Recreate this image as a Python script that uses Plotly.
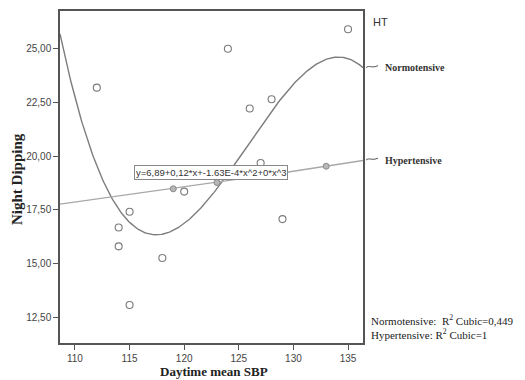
import numpy as np
import plotly.graph_objects as go

# Daytime mean SBP vs night dipping, split by hypertension status
normo_sbp = [112, 114, 114, 115, 115, 118, 120, 124, 126, 127, 128, 129, 135]
normo_dip = [23.19, 16.68, 15.80, 17.41, 13.07, 15.26, 18.35, 25.00, 22.22, 19.68, 22.65, 17.07, 25.91]
hyper_sbp = [119, 123, 133]
hyper_dip = [18.48, 18.77, 19.53]

x_range = [108.63, 136.37]
y_range = [11.3, 26.76]
y_ticks = [12.5, 15.0, 17.5, 20.0, 22.5, 25.0]
x_ticks = [110, 115, 120, 125, 130, 135]

equation_text = "y=6,89+0,12*x+-1.63E-4*x^2+0*x^3"
r2_lines = ["Normotensive:  R<sup>2</sup> Cubic=0,449", "Hypertensive: R<sup>2</sup> Cubic=1"]

grid = np.linspace(x_range[0], x_range[1], 300)
normo_fit = np.polyval(np.polyfit(normo_sbp, normo_dip, 3), grid)
hyper_fit = np.polyval(np.polyfit(hyper_sbp, hyper_dip, 2), grid)

mark_col = "#7a7a7a"

fig = go.Figure()
fig.add_trace(go.Scatter(x=grid, y=normo_fit, mode="lines",
                         line=dict(color="#7d7d7d", width=1.4), hoverinfo="skip"))
fig.add_trace(go.Scatter(x=grid, y=hyper_fit, mode="lines",
                         line=dict(color="#a8a8a8", width=1.4), hoverinfo="skip"))
fig.add_trace(go.Scatter(x=normo_sbp, y=normo_dip, mode="markers",
                         marker=dict(symbol="circle-open", size=7, color=mark_col,
                                     line=dict(width=1.1, color=mark_col))))
fig.add_trace(go.Scatter(x=hyper_sbp, y=hyper_dip, mode="markers",
                         marker=dict(symbol="circle", size=6, color="#b8b8b8",
                                     line=dict(width=1, color="#8a8a8a"))))

axis_common = dict(showline=True, linecolor="#555555", linewidth=1.5, mirror=True,
                   showgrid=False, zeroline=False, ticks="outside", ticklen=5,
                   tickcolor="#555555", tickwidth=1.3,
                   tickfont=dict(family="Liberation Sans", size=10, color="#444444"))

fig.update_layout(
    width=525, height=380,
    margin=dict(l=60, r=162, t=9, b=37),
    paper_bgcolor="white", plot_bgcolor="white",
    showlegend=False,
    separators=",.",
    xaxis=dict(range=x_range, tickvals=x_ticks, **axis_common),
    yaxis=dict(range=y_range, tickvals=y_ticks, tickformat=".2f", **axis_common),
)

serif = "Liberation Serif"


def pxx(xp):
    return (xp - 60) / 303


def pxy(yp):
    return (343 - yp) / 334


ann = [
    dict(text="<b>Daytime mean SBP</b>", x=pxx(214), y=pxy(372), xref="paper", yref="paper",
         xanchor="center", yanchor="middle", showarrow=False,
         font=dict(family=serif, size=13, color="#222222")),
    dict(text="<b>Night Dipping</b>", x=pxx(17), y=pxy(178), xref="paper", yref="paper",
         xanchor="center", yanchor="middle", textangle=-90, showarrow=False,
         font=dict(family=serif, size=15, color="#222222")),
    dict(text="HT", x=pxx(371), y=pxy(20), xref="paper", yref="paper",
         xanchor="left", yanchor="middle", showarrow=False,
         font=dict(family="Liberation Sans", size=11, color="#333333")),
    dict(text="<b>Normotensive</b>", x=pxx(383), y=pxy(66),
         xref="paper", yref="paper", xanchor="left", yanchor="middle", showarrow=False,
         font=dict(family=serif, size=10, color="#333333")),
    dict(text="<b>Hypertensive</b>", x=pxx(383), y=pxy(159),
         xref="paper", yref="paper", xanchor="left", yanchor="middle", showarrow=False,
         font=dict(family=serif, size=10, color="#333333")),
    dict(text="<br>".join(r2_lines), x=pxx(369), y=pxy(311),
         xref="paper", yref="paper", xanchor="left", yanchor="top", align="left",
         showarrow=False, font=dict(family=serif, size=11, color="#222222")),
    dict(text=equation_text, x=pxx(134), y=pxy(171.5),
         xref="paper", yref="paper", xanchor="left", yanchor="middle", showarrow=False,
         bgcolor="white", bordercolor="#888888", borderwidth=1, borderpad=1,
         font=dict(family="Liberation Sans", size=9.5, color="#333333")),
]
fig.update_layout(annotations=ann)


def pt(xp, yp):
    return f"{pxx(xp):.4f},{pxy(yp):.4f}"


shapes = []
for yc in (65, 158):
    path = f"M {pt(366, yc + 1)} C {pt(369, yc - 2)} {pt(372, yc + 2)} {pt(378, yc - 1)}"
    shapes.append(dict(type="path", path=path, xref="paper", yref="paper",
                       line=dict(color="#555555", width=1)))
fig.update_layout(shapes=shapes)

fig.write_html("out.html")
